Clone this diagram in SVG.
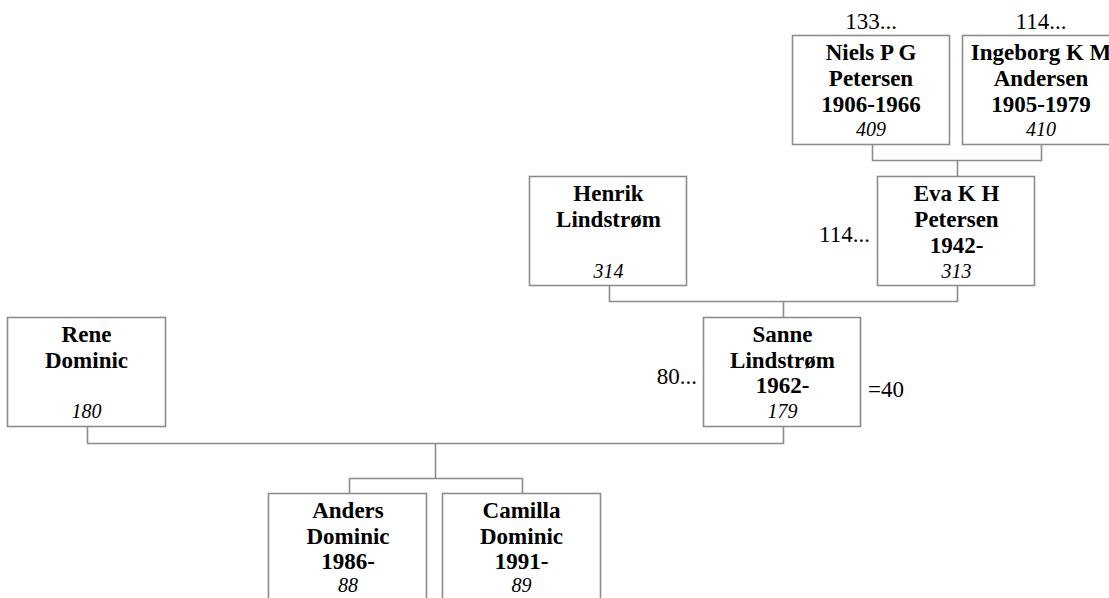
<svg xmlns="http://www.w3.org/2000/svg" width="1109" height="598" viewBox="0 0 1109 598">
<style>
.box{fill:#fff;stroke:#8c8c8c;stroke-width:1.6}
.con{fill:none;stroke:#8c8c8c;stroke-width:1.6}
.n{font-family:"Liberation Serif","Times New Roman",serif;font-size:23px;font-weight:bold;text-anchor:middle;fill:#000}
.i{font-family:"Liberation Serif","Times New Roman",serif;font-size:20px;font-style:italic;text-anchor:middle;fill:#000}
.l{font-family:"Liberation Serif","Times New Roman",serif;font-size:23px;fill:#000}
</style>
<rect width="1109" height="598" fill="#fff"/>
<g id="connectors">
<path class="con" d="M872.5,145 V160.5 H1041.5 V145 M957.5,160.5 V176"/>
<path class="con" d="M609.5,286 V301.5 H957.5 V286 M783.5,301.5 V317"/>
<path class="con" d="M87.5,427 V443.5 H783.5 V427 M435.5,443.5 V478.5 M349.5,493 V478.5 H522.5 V493"/>
</g>
<g id="niels">
<rect class="box" x="792.5" y="35.5" width="157" height="109"/>
<text class="n" x="871" y="60">Niels P G</text>
<text class="n" x="871" y="86">Petersen</text>
<text class="n" x="871" y="112">1906-1966</text>
<text class="i" x="871" y="136">409</text>
<text class="l" x="871" y="29" text-anchor="middle">133...</text>
</g>
<g id="ingeborg">
<rect class="box" x="962.5" y="35.5" width="157" height="109"/>
<text class="n" x="1041" y="60">Ingeborg K M</text>
<text class="n" x="1041" y="86">Andersen</text>
<text class="n" x="1041" y="112">1905-1979</text>
<text class="i" x="1041" y="136">410</text>
<text class="l" x="1041" y="29" text-anchor="middle">114...</text>
</g>
<g id="henrik">
<rect class="box" x="529.5" y="176.5" width="157" height="109"/>
<text class="n" x="608.5" y="201">Henrik</text>
<text class="n" x="608.5" y="227">Lindstrøm</text>
<text class="i" x="608.5" y="278">314</text>
</g>
<g id="eva">
<rect class="box" x="877.5" y="176.5" width="157" height="109"/>
<text class="n" x="956.5" y="201">Eva K H</text>
<text class="n" x="956.5" y="227">Petersen</text>
<text class="n" x="956.5" y="253">1942-</text>
<text class="i" x="956.5" y="278">313</text>
<text class="l" x="870" y="242" text-anchor="end">114...</text>
</g>
<g id="rene">
<rect class="box" x="7.5" y="317.5" width="158" height="109"/>
<text class="n" x="86.5" y="342">Rene</text>
<text class="n" x="86.5" y="368">Dominic</text>
<text class="i" x="86.5" y="418">180</text>
</g>
<g id="sanne">
<rect class="box" x="703.5" y="317.5" width="157" height="109"/>
<text class="n" x="782.5" y="342">Sanne</text>
<text class="n" x="782.5" y="368">Lindstrøm</text>
<text class="n" x="782.5" y="393">1962-</text>
<text class="i" x="782.5" y="418">179</text>
<text class="l" x="697" y="384" text-anchor="end">80...</text>
<text class="l" x="868" y="397">=40</text>
</g>
<g id="anders">
<rect class="box" x="268.5" y="493.5" width="158" height="110"/>
<text class="n" x="348" y="518">Anders</text>
<text class="n" x="348" y="544">Dominic</text>
<text class="n" x="348" y="569">1986-</text>
<text class="i" x="348" y="592">88</text>
</g>
<g id="camilla">
<rect class="box" x="442.5" y="493.5" width="158" height="110"/>
<text class="n" x="521.5" y="518">Camilla</text>
<text class="n" x="521.5" y="544">Dominic</text>
<text class="n" x="521.5" y="569">1991-</text>
<text class="i" x="521.5" y="592">89</text>
</g>
</svg>
